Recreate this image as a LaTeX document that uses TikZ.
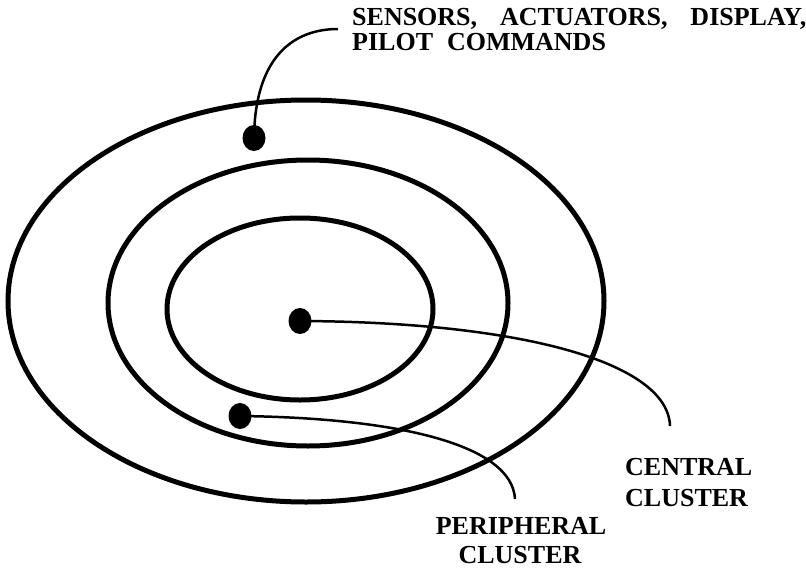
\documentclass[tikz,border=0pt]{standalone}
\usepackage{fontspec}
\setmainfont{Liberation Serif}
\usetikzlibrary{shapes.geometric}
\begin{document}
\begin{tikzpicture}[x=1pt,y=-1pt,
  ring/.style={draw=black,line width=5pt},
  dot/.style={ellipse,fill=black,inner sep=0pt,minimum width=23pt,minimum height=26pt},
  leader/.style={draw=black,line width=2.5pt},
  lbl/.style={inner sep=0pt,font=\fontsize{26}{26}\selectfont\bfseries}]
\useasboundingbox (0,0) rectangle (806,570);
% rings
\draw[ring] (306,301) ellipse [x radius=298pt, y radius=201pt];
\draw[ring] (308,303) ellipse [x radius=200pt, y radius=143pt];
\draw[ring] (300,309) ellipse [x radius=133pt, y radius=91pt];
% dots
\node[dot] (top) at (254,138) {};
\node[dot] (central) at (300,321) {};
\node[dot] (periph) at (240,416) {};
% labels
\node[lbl,anchor=base west] (s1) at (352,25) {SENSORS,\hspace{23pt}ACTUATORS,\hspace{23pt}DISPLAY,};
\node[lbl,anchor=base west] (s2) at (352,50) {PILOT\hspace{14pt}COMMANDS};
\node[lbl,anchor=base west] (c1) at (625,475) {CENTRAL};
\node[lbl,anchor=base west] (c2) at (625,506) {CLUSTER};
\node[lbl,anchor=base] (p1) at (521,534) {PERIPHERAL};
\node[lbl,anchor=base] (p2) at (520,563) {CLUSTER};
% leader end points
\coordinate (ts) at (338,29);
\coordinate (ce) at (670,426);
\coordinate (pe) at (515,499);
% leaders
\draw[leader] (top.center) .. controls (255,55) and (295,29) .. (ts);
\draw[leader] (central.center) .. controls (520,322) and (668,362) .. (ce);
\draw[leader] (periph.center) .. controls (400,418) and (512,445) .. (pe);
\end{tikzpicture}
\end{document}
